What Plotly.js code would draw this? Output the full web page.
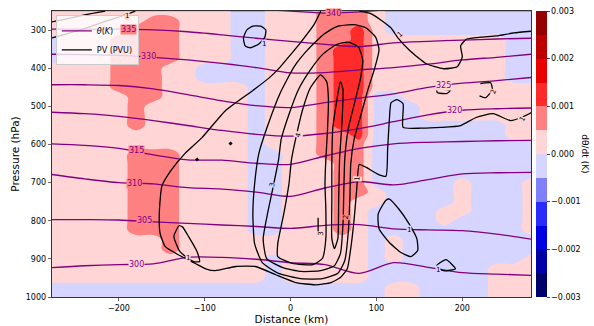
<!DOCTYPE html>
<html><head><meta charset="utf-8">
<script src="https://cdn.plot.ly/plotly-3.0.1.min.js"></script>
<style>html,body{margin:0;padding:0;background:#fff}#chart{width:594px;height:326px}</style>
</head><body><div id="chart"></div>
<script>
// ---------------- data ----------------
const xGrid = [-280,-260,-240,-220,-200,-180,-160,-140,-120,-100,-80,-60,-40,-20,0,20,40,60,80,100,120,140,160,180,200,220,240,260,280];
const pGrid = [250,275,300,325,350,375,400,425,450,475,500,525,550,575,600,625,650,675,700,725,750,775,800,825,850,875,900,925,950,975,1000];
// heating-rate classes (b: -0.00025, p: 0.00025, s: 0.00075, r: 0.00125)
const shadeValue = {b:-0.00025, p:0.00025, s:0.00075, r:0.00125};
const shadeRows = [
"pppppppppppbbpppssspbbbbbbbbb",
"ppppppsspppbbpppssspbbbbbbbbb",
"pppppssspppbbpppssrpbbbbbbbbb",
"bpppsssspppbbpppssrppppppppbb",
"bpppsssspppbbpppsrrppppppppbb",
"bpppsssspppbbpppsrrppppppppbb",
"ppppsssppbbbbpppsrrppppppppbb",
"ppppsssppbbbbpppsrrppppppppbb",
"ppppssspppppbpppsrrpppppppppp",
"pppppsspppppbpppsrrbbpppppppp",
"pppppsppppppbpppsrrbbbppppppp",
"pppppsppppppbpppsrrbbbppppppp",
"pppppsppppppbpppsrrbbbbbbbbpp",
"ppppppppppppbpppssrbbbbbbbbpp",
"ppppppppppppbpppsssbbbbbbbbbb",
"pppppsssppppbbppsssbbbbbbbbbb",
"pppppsssppppbbpppssbbbbbbbbbb",
"pppppsssppppbbpppssbbbbbbbbbb",
"pppppsssppppbbpppssbbbbbpbbbp",
"pppppsssppppbbpppsspbbbbpbbbp",
"pppppsssppppbbpppsppbbbbpbbbp",
"pppppsssppppbbpppspbbbbppbbbp",
"pppppsssppppbbpppspbbbbpbbbbp",
"pppppsssppppbbpppspbbbbbbbbbp",
"pppppppspppppppppppbpbbbbbbbb",
"pppppppspppppppppppbpbbbbbbbb",
"pppppppppppppbpppppbpbbbbbbbp",
"pppppppppppppbpppppbbbbbbbppp",
"pppppppppppppbpppppbbbbbbbppp",
"bbbbbbbbbbbbbbbbbbbbppbbbbppp",
"bbbbbbbbbbbbbbbbbbbbppbbbbppp"
];
const cbarTicks = [-0.003,-0.002,-0.001,0,0.001,0.002,0.003];

// potential temperature isolines: pressure (hPa) at each distance
const thetaX = [-280,-240,-200,-160,-120,-80,-40,0,40,80,120,160,200,240,280];
const theta300 = [923,918,915,913,896,896,901,910,915,938,910,922,936,940,943];
const theta305 = [797,797,798,803,807,811,815,820,812,810,821,824,826,835,848];
const theta310 = [678,690,700,703,713,717,725,736,714,697,706,692,677,674,673];
const theta315 = [598,602,610,627,640,641,649,652,630,610,598,594,592,590,589];
const theta320 = [515,519,526,537,550,563,573,578,571,558,540,522,510,506,504];
const theta325 = [443,443,445,454,469,485,498,503,490,478,467,450,439,432,424];
const theta330 = [363,364,366,371,378,387,398,412,411,404,398,389,378,371,363];
const theta335 = [297,297,297,299,304,312,321,329,337,343,333,329,326,323,321];
const theta340 = [235,235,236,237,238,240,244,250,255,252,245,240,238,237,236];
const thetaLevels = [300,305,310,315,320,325,330,335,340];
const thetaLabelX = [-179,-170,-182,-180,191,178,-166,-189,50];
const thetaLabelP = [915,800,703,616,511,444,370,297,255];

// PV contours (distance km, pressure hPa)
const pvOuterX = [35,27,12,0,-12,-25,-44,-76,-103,-123,-140,-150,-153,-152,-146,-131,-111,-99,-88,-64,-41,-18,6,29,47,58,66,70,74,77,80,88,102,111,113,115,117,124,131,131,152,175,198,216,236,256,269,283];
const pvOuterP = [250,286,331,364,396,425,458,511,581,623,670,709,780,834,868,889,912,926,931,920,920,941,962,968,962,949,926,873,795,717,652,660,678,683,612,534,490,482,493,555,557,555,550,529,519,537,529,513];
const pvTopRightX = [80,94,105,117,125,139,158,178,194,200,198,205,222,240,260,283];
const pvTopRightP = [250,257,273,294,320,354,388,401,396,370,341,323,318,315,307,302];
const pvLoopAX = [-55,-51,-44,-35,-29,-30,-37,-47,-53,-55];
const pvLoopAP = [320,299,289,289,299,318,336,346,341,320];
const pvH1X = [67,53,39,20,4,-12,-27,-37,-42,-44,-42,-33,-14,12,37,55,63,67,69,70,74,82,90,98,103,99,88,76,67];
const pvH1P = [286,291,310,351,396,464,552,623,704,782,860,910,938,952,952,938,905,834,743,652,586,521,456,399,351,318,294,286,286];
const pvH2X = [67,53,37,23,9,-2,-11,-14,-20,-27,-32,-28,-9,12,35,51,58,61,62,63,67,74,81,84,79,67];
const pvH2P = [331,338,364,404,456,521,586,639,707,782,847,899,923,933,931,918,886,808,717,639,560,495,430,378,344,331];
const pvH3X = [35,23,14,7,1,-2,-8,-15,-15,2,26,37,41,41,40,41,43,44,42,35];
const pvH3P = [417,451,508,573,639,704,782,860,894,912,915,899,847,769,704,639,560,482,435,417];
const pvSpikeX = [48,49,53,58,61,60,57,56,55,51,48,48,48];
const pvSpikeP = [652,560,495,435,456,534,639,743,847,873,847,743,652];
const pvTinyX = [32,32];
const pvTinyP = [792,831];
const pvLoopBX = [111,102,103,115,129,140,148,147,138,126,115,111];
const pvLoopBP = [746,782,821,857,884,894,878,847,808,769,743,746];
const pvLoopCX = [170,181,192,178,170];
const pvLoopCP = [918,902,926,931,918];
const pvLoopDX = [170,186,182,171,170];
const pvLoopDP = [453,458,466,464,453];
const pvHookX = [221,233,235,227,220];
const pvHookP = [440,438,456,477,472];
const pvLoopEX = [-130,-136,-129,-113,-106,-109,-119,-126,-130];
const pvLoopEP = [813,841,881,907,907,881,841,816,813];
const pvTopLeftAX = [-278,-257,-234,-211,-193,-181];
const pvTopLeftAP = [320,307,291,273,260,250];
const pvTopLeftBX = [-278,-257,-234,-216];
const pvTopLeftBP = [278,268,257,250];
const pvDotAX = [-110,-108];
const pvDotAP = [636,642];
const pvDotBX = [-71,-69];
const pvDotBP = [594,600];
// PV contour labels
const pvLabelText = ["1","1","1","4","3","2","1","3","1","1","1","2","1"];
const pvLabelX = [-191,-31,127,9,-21,64,78,35,138,172,-120,236,270];
const pvLabelP = [262,335,312,575,707,792,691,835,824,930,897,461,532];
const pvLabelAngle = [0,0,-40,-70,-80,-85,-85,-90,0,0,0,-70,-60];

// ---------------- build ----------------
const PINK = '#ffd5d5', SALMON = '#ff8080', BLUE = '#d5d5ff';
const zGrid = shadeRows.map(r => r.split('').map(c => shadeValue[c]));
const binColors = ['#00006a','#0000a6','#0000e1','#2b2bff','#8080ff','#d5d5ff','#ffd5d5','#ff8080','#ff2b2b','#ea0000','#bf0000','#950000'];
const cscale = [];
binColors.forEach((c,k) => { cscale.push([k/12, c]); cscale.push([(k+1)/12, c]); });

const traces = [];
traces.push({
  type:'contour', x:xGrid, y:pGrid, z:zGrid,
  zmin:-0.003, zmax:0.003, autocontour:false,
  contours:{start:-0.003, end:0.003, size:0.0005, coloring:'fill', showlines:false},
  line:{width:0}, colorscale:cscale, showlegend:false, hoverinfo:'skip',
  colorbar:{thickness:11, len:1, lenmode:'fraction', x:1.0104, xanchor:'left', y:0.5, yanchor:'middle',
    xpad:0, ypad:0, outlinewidth:0, ticks:'outside', ticklen:3, tickwidth:1,
    tickvals:cbarTicks, tickformat:'.3f', tickfont:{size:8, family:'DejaVu Sans', color:'#000'}}
});
const thetaSeries = [theta300,theta305,theta310,theta315,theta320,theta325,theta330,theta335,theta340];
thetaSeries.forEach((s,i) => traces.push({
  type:'scatter', mode:'lines', x:thetaX, y:s, line:{color:'#800080', width:1.3, shape:'spline', smoothing:0.8},
  name:'<i>θ</i>(<i>K</i>)', legendgroup:'theta', showlegend:i===0, hoverinfo:'skip'
}));
const pvSets = [[pvOuterX,pvOuterP],[pvTopRightX,pvTopRightP],[pvLoopAX,pvLoopAP],[pvH1X,pvH1P],[pvH2X,pvH2P],
  [pvH3X,pvH3P],[pvSpikeX,pvSpikeP],[pvTinyX,pvTinyP],[pvLoopBX,pvLoopBP],[pvLoopCX,pvLoopCP],[pvLoopDX,pvLoopDP],
  [pvHookX,pvHookP],[pvLoopEX,pvLoopEP],[pvTopLeftAX,pvTopLeftAP],[pvTopLeftBX,pvTopLeftBP],[pvDotAX,pvDotAP],[pvDotBX,pvDotBP]];
pvSets.forEach((s,i) => traces.push({
  type:'scatter', mode:'lines', x:s[0], y:s[1], line:{color:'#000', width:(i>=15?3:1.3), shape:'spline', smoothing:0.5},
  name:'PV (PVU)', legendgroup:'pv', showlegend:i===0, hoverinfo:'skip'
}));

const thetaBg = [PINK,SALMON,SALMON,SALMON,PINK,PINK,SALMON,SALMON,SALMON];
const annotations = [];
thetaLevels.forEach((lv,i) => annotations.push({
  x:thetaLabelX[i], y:thetaLabelP[i], xref:'x', yref:'y', text:String(lv), showarrow:false,
  font:{size:8, color:'#800080', family:'DejaVu Sans'}, bgcolor:thetaBg[i], borderpad:0
}));
const pvBg = [PINK,BLUE,PINK,PINK,BLUE,SALMON,PINK,PINK,BLUE,BLUE,PINK,PINK,PINK];
pvLabelText.forEach((t,i) => annotations.push({
  x:pvLabelX[i], y:pvLabelP[i], xref:'x', yref:'y', text:t, showarrow:false, textangle:pvLabelAngle[i],
  font:{size:7, color:'#000', family:'DejaVu Sans'}, bgcolor:pvBg[i], borderpad:0
}));
annotations.push({x:1.112, y:0.5, xref:'paper', yref:'paper', text:'dθ/dt (K)', showarrow:false, textangle:90,
  font:{size:9, color:'#000', family:'DejaVu Sans'}, xanchor:'center', yanchor:'middle'});

const layout = {
  width:594, height:326, margin:{l:52, r:63, t:11, b:29},
  paper_bgcolor:'#fff', plot_bgcolor:'#fff',
  font:{family:'DejaVu Sans', color:'#000'},
  xaxis:{range:[-278,280], tickvals:[-200,-100,0,100,200], ticks:'outside', ticklen:3.5, tickwidth:0.8,
    showline:true, mirror:true, linecolor:'#000', linewidth:0.8, showgrid:false, zeroline:false,
    tickfont:{size:8}, title:{text:'Distance (km)', font:{size:10.5}, standoff:0}},
  yaxis:{range:[1000,249.5], tickvals:[300,400,500,600,700,800,900,1000], ticks:'outside', ticklen:3.5, tickwidth:0.8,
    showline:true, mirror:true, linecolor:'#000', linewidth:0.8, showgrid:false, zeroline:false,
    tickfont:{size:8}, title:{text:'Pressure (hPa)', font:{size:10.5}, standoff:3}},
  legend:{x:0.008, y:0.985, xanchor:'left', yanchor:'top', bgcolor:'rgba(255,255,255,0.8)', bordercolor:'#cccccc',
    borderwidth:1, font:{size:8}, tracegroupgap:0, itemwidth:30},
  annotations:annotations
};
Plotly.newPlot('chart', traces, layout, {staticPlot:true, displayModeBar:false});
</script>
</body></html>
